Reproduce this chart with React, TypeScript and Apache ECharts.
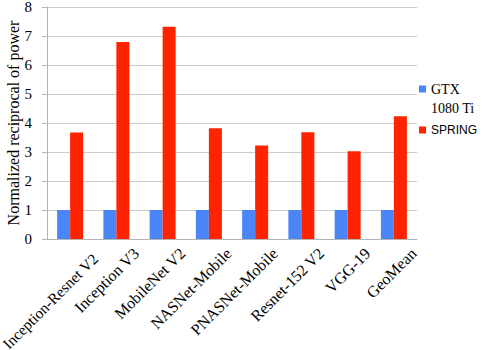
import React, { useEffect, useRef } from "react";
import * as echarts from "echarts";

const categories = [
  "Inception-Resnet V2",
  "Inception V3",
  "MobileNet V2",
  "NASNet-Mobile",
  "PNASNet-Mobile",
  "Resnet-152 V2",
  "VGG-19",
  "GeoMean",
];
const gtxValues = [1, 1, 1, 1, 1, 1, 1, 1];
const springValues = [3.67, 6.79, 7.32, 3.82, 3.22, 3.68, 3.03, 4.23];
const seriesNames = ["GTX 1080 Ti", "SPRING"];
const yAxisTitle = "Normalized reciprocal of power";

const SERIF = "'Liberation Serif', 'Times New Roman', serif";
const SANS = "'Liberation Sans', Arial, sans-serif";

export default function App() {
  const ref = useRef<HTMLDivElement>(null);
  useEffect(() => {
    if (!ref.current) return;
    const chart = echarts.init(ref.current, null, { renderer: "svg" });
    const xData = categories.map((c, i) =>
      i === 0
        ? {
            value: c,
            textStyle: { padding: [28, 0, 0, 0], verticalAlign: "top", fontSize: 15.4 },
          }
        : c
    );
    chart.setOption({
      animation: false,
      backgroundColor: "#ffffff",
      grid: {
        left: 47,
        right: 67,
        top: 7,
        bottom: 111,
        containLabel: false,
        outerBoundsMode: "none",
      },
      legend: [
        {
          left: 419,
          top: 63,
          orient: "vertical",
          padding: 0,
          itemWidth: 7,
          itemHeight: 7,
          icon: "rect",
          selectedMode: false,
          data: [{ name: seriesNames[0] }],
          formatter: () => "{a| }\n{a|GTX}\n{a|1080 Ti}",
          textStyle: {
            fontFamily: SERIF,
            fontSize: 14,
            color: "#000",
            rich: {
              a: { fontFamily: SERIF, fontSize: 14, lineHeight: 19, color: "#000" },
            },
          },
        },
        {
          left: 419,
          top: 124,
          orient: "vertical",
          padding: 0,
          itemWidth: 7,
          itemHeight: 7,
          icon: "rect",
          selectedMode: false,
          data: [{ name: seriesNames[1] }],
          textStyle: { fontFamily: SANS, fontSize: 12, color: "#000" },
        },
      ],
      xAxis: {
        type: "category",
        data: xData,
        axisLine: { show: true, lineStyle: { color: "#b4b4b4", width: 1 } },
        axisTick: { show: false },
        axisLabel: {
          interval: 0,
          rotate: 45,
          fontFamily: SERIF,
          fontSize: 16,
          color: "#000",
          margin: -8,
          verticalAlign: "top",
          padding: [20, 0, 0, 0],
        },
      },
      yAxis: {
        type: "value",
        min: 0,
        max: 8,
        interval: 1,
        name: yAxisTitle,
        nameLocation: "middle",
        nameGap: 26,
        nameMoveOverlap: false,
        nameTextStyle: { fontFamily: SERIF, fontSize: 16, color: "#000" },
        axisLine: { show: true, lineStyle: { color: "#b4b4b4", width: 1 } },
        axisTick: { show: true, length: 5, lineStyle: { color: "#b4b4b4" } },
        splitLine: { show: true, lineStyle: { color: "#cccccc", width: 1 } },
        axisLabel: { fontFamily: SERIF, fontSize: 15, color: "#000", margin: 15 },
      },
      series: [
        {
          name: seriesNames[0],
          type: "bar",
          data: gtxValues,
          barWidth: 13,
          barGap: "0%",
          itemStyle: { color: "#4a86f8" },
        },
        {
          name: seriesNames[1],
          type: "bar",
          data: springValues,
          barWidth: 13,
          barGap: "0%",
          itemStyle: { color: "#ff2300" },
        },
      ],
    });
    return () => chart.dispose();
  }, []);
  return (
    <div
      ref={ref}
      style={{ position: "absolute", left: 0, top: 0, width: 484, height: 350 }}
    />
  );
}
